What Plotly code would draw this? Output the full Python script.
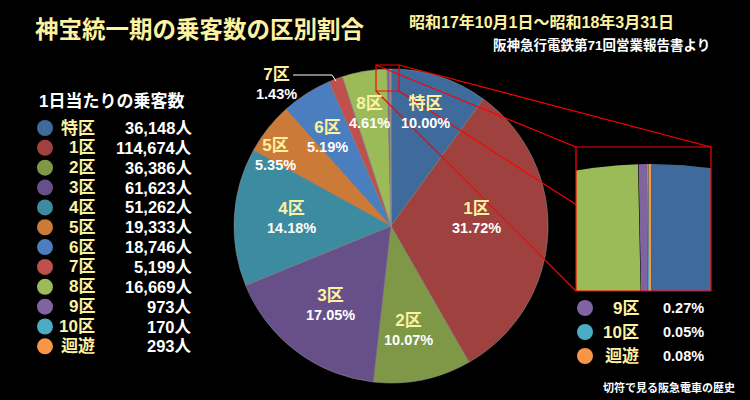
import numpy as np
import plotly.graph_objects as go

# ---------------- data ----------------
districts = ["特区", "1区", "2区", "3区", "4区", "5区", "6区", "7区", "8区", "9区", "10区", "迴遊"]
passengers = [36148, 114674, 36386, 61623, 51262, 19333, 18746, 5199, 16669, 973, 170, 293]
# share labels as printed on the chart (%)
shares_pct = [10.00, 31.72, 10.07, 17.05, 14.18, 5.35, 5.19, 1.43, 4.61, 0.27, 0.05, 0.08]
small_districts = ["9区", "10区", "迴遊"]

title_text = "神宝統一期の乗客数の区別割合"
period_text = "昭和17年10月1日～昭和18年3月31日"
source_text = "阪神急行電鉄第71回営業報告書より"
legend_title = "1日当たりの乗客数"
footer_text = "切符で見る阪急電車の歴史"

# ---------------- styles / layout ----------------
colors = ["#3f6a9c", "#9f413e", "#7e9848", "#67508a", "#3c8ba0", "#cc7a37",
          "#4a7ebf", "#c0504d", "#9bbb59", "#8064a2", "#4bacc6", "#f79646"]
YELLOW = "#fdf2a0"
FONT = "Liberation Sans, Noto Sans CJK JP, sans-serif"
W, H = 750, 400
CX, CY, R = 391, 226, 157          # pie centre / radius (px)
# label block centres inside the pie (px), None = no label
label_pos = [(425, 113), (476, 217), (408, 329), (330, 304), (291, 217), (275, 154),
             (327, 136), (276, 84), (369, 112), None, None, None]
small_box = (376, 65, 399, 91)      # zoom source rectangle (px)
big_box = (576, 147, 711, 291)      # zoom inset rectangle (px)
inset_xrange = [-0.142, 0.113]      # pie units shown in the inset
inset_yrange = [0.799, 1.027]


def px(x):
    return x / W


def py(y):
    return 1 - y / H


total = sum(passengers)
fig = go.Figure()

# main pie
fig.add_trace(go.Pie(
    labels=districts, values=passengers, sort=False, direction="clockwise", rotation=0,
    marker=dict(colors=colors, line=dict(color="#8c8c8c", width=0.6)),
    textinfo="none", hoverinfo="label+value+percent",
    domain=dict(x=[px(CX - R), px(CX + R)], y=[py(CY + R), py(CY - R)]),
))

# zoomed inset: pie wedges drawn in pie units (radius 1) on a clipped cartesian axis
cum = np.concatenate([[0], np.cumsum(passengers)]) / total
for i, name in enumerate(districts):
    a0, a1 = 2 * np.pi * cum[i], 2 * np.pi * cum[i + 1]
    t = np.linspace(a0, a1, max(3, int((a1 - a0) / 0.001)))
    xs = np.concatenate([[0], np.sin(t), [0]])
    ys = np.concatenate([[0], np.cos(t), [0]])
    fig.add_trace(go.Scatter(x=xs, y=ys, mode="lines", fill="toself", fillcolor=colors[i],
                             line=dict(width=0, color=colors[i]), hoverinfo="skip",
                             showlegend=False))

sx0, sy0, sx1, sy1 = small_box
bx0, by0, bx1, by1 = big_box
fig.update_xaxes(domain=[px(bx0), px(bx1)], range=inset_xrange, visible=False, fixedrange=True)
fig.update_yaxes(domain=[py(by1), py(by0)], range=inset_yrange, visible=False, fixedrange=True)

shapes = []
RED = "#ff0000"


def line(x0, y0, x1, y1, color=RED, width=1.2):
    shapes.append(dict(type="line", xref="paper", yref="paper", x0=px(x0), y0=py(y0),
                       x1=px(x1), y1=py(y1), line=dict(color=color, width=width), layer="above"))


# connecting lines (corner to corner, cut where hidden behind inset)
line(sx0, sy0, bx0, by0)
line(sx1, sy0, bx1, by0)
line(sx0, sy1, bx0, by1)
yint = sy1 + (bx0 - sx1) * (by1 - sy1) / (bx1 - sx1)
line(sx1, sy1, bx0, yint)
for (x0, y0, x1, y1) in [small_box, big_box]:
    shapes.append(dict(type="rect", xref="paper", yref="paper", x0=px(x0), y0=py(y0),
                       x1=px(x1), y1=py(y1), line=dict(color=RED, width=1.2), layer="above"))

# leader line for 7区
line(293, 75, 332, 75, color="white", width=1)
line(332, 75, 336, 81, color="white", width=1)


def ann(x, y, text, size, color="white", xanchor="center", yanchor="middle"):
    fig.add_annotation(x=px(x), y=py(y), xref="paper", yref="paper", text=text,
                       showarrow=False, xanchor=xanchor, yanchor=yanchor, align="center",
                       font=dict(size=size, color=color, family=FONT))


def circle(x, y, r, color):
    shapes.append(dict(type="circle", xref="paper", yref="paper", x0=px(x - r), x1=px(x + r),
                       y0=py(y + r), y1=py(y - r), fillcolor=color, line=dict(width=0),
                       layer="above"))


# pie labels
for name, s, pos in zip(districts, shares_pct, label_pos):
    if pos is None:
        continue
    txt = (f"<b><span style='color:{YELLOW};font-size:17px'>{name}</span><br>"
           f"{s:.2f}%</b>")
    ann(pos[0], pos[1], txt, 14.5)

# titles
ann(33, 30, f"<b>{title_text}</b>", 23.5, YELLOW, xanchor="left")
ann(407, 22, f"<b>{period_text}</b>", 16, YELLOW, xanchor="left")
ann(712, 45, f"<b>{source_text}</b>", 13.5, "white", xanchor="right")
ann(37, 101, f"<b>{legend_title}</b>", 17, "white", xanchor="left")
ann(737, 387, f"<b>{footer_text}</b>", 11, "white", xanchor="right")

# left legend
for i, (name, v) in enumerate(zip(districts, passengers)):
    y = 128 + 19.85 * i
    circle(45, y, 8, colors[i])
    ann(97, y, f"<b>{name}</b>", 17, YELLOW, xanchor="right")
    ann(194, y, f"<b>{v:,}人</b>", 16.5, "white", xanchor="right")

# inset legend
for j, name in enumerate(small_districts):
    i = districts.index(name)
    y = 308 + 24 * j
    circle(585, y, 8, colors[i])
    ann(641, y, f"<b>{name}</b>", 17, YELLOW, xanchor="right")
    ann(661, y, f"<b>{shares_pct[i]:.2f}%</b>", 14.5, "white", xanchor="left")

fig.update_layout(
    width=W, height=H, margin=dict(l=0, r=0, t=0, b=0),
    paper_bgcolor="black", plot_bgcolor="black", showlegend=False,
    shapes=shapes, font=dict(family=FONT),
)

fig.write_html("out.html")
